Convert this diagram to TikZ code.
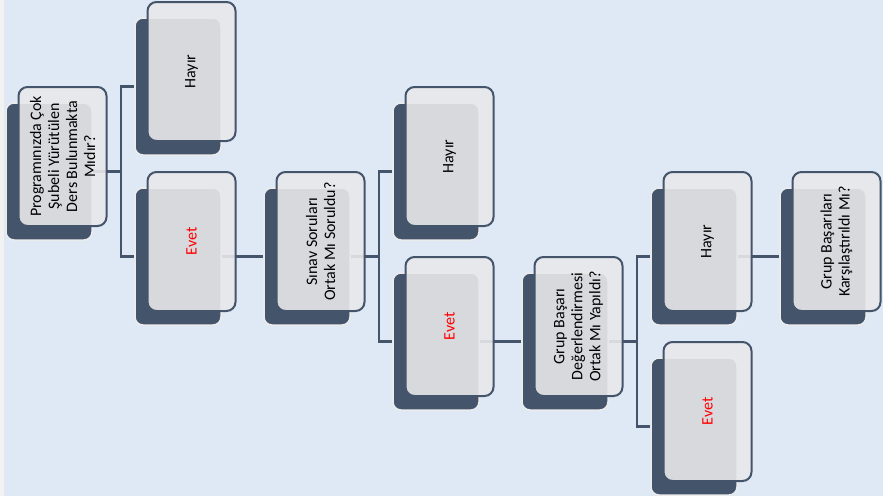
\documentclass[tikz,border=0pt]{standalone}
\usepackage{fontspec}
\setmainfont{Carlito}
\usetikzlibrary{positioning}
\definecolor{cardblue}{HTML}{44546A}
\definecolor{cardgrey}{HTML}{E8E8EA}
\definecolor{paleblue}{HTML}{DEE9F5}
\begin{document}
\begin{tikzpicture}[on grid, node distance=85pt and 129pt,
  backcard/.style={rectangle, rounded corners=8pt, fill=cardblue, draw=gray!15, line width=1.5pt, minimum width=86pt, minimum height=137pt, inner sep=0pt},
  frontcard/.style={rectangle, rounded corners=9pt, fill=cardgrey, fill opacity=0.9, text opacity=1, draw=cardblue, line width=2pt, rotate=90, minimum width=139pt, minimum height=88pt, align=center, font=\fontsize{16}{18}\selectfont},
  evetcard/.style={frontcard, text=red},
  link/.style={draw=cardblue, line width=2.5pt}]
    % Background
    \fill[paleblue] (0pt,0pt) rectangle (883pt,-496pt);
    \fill[blue!3!gray!10] (0pt,0pt) rectangle (4pt,-496pt);
    \useasboundingbox (0pt,0pt) rectangle (883pt,-496pt);
    % Back cards
    \node[backcard] (n1b) at (49pt,-171.5pt) {};
    \node[backcard] (h1b) [above right=of n1b] {};
    \node[backcard] (e1b) [below right=of n1b] {};
    \node[backcard] (sb) [right=of e1b] {};
    \node[backcard] (h2b) [above right=of sb] {};
    \node[backcard] (e2b) [below right=of sb] {};
    \node[backcard] (gb) [right=of e2b] {};
    \node[backcard] (h3b) [above right=of gb] {};
    \node[backcard] (e3b) [below right=of gb] {};
    \node[backcard] (kb) [right=of h3b] {};
    % Lines
    \draw[link] (n1b.east) -- ++(28pt,0) |- (h1b.west);
    \draw[link] (n1b.east) -- ++(28pt,0) |- (e1b.west);
    \draw[link] (e1b.east) -- (sb.west);
    \draw[link] (sb.east) -- ++(28pt,0) |- (h2b.west);
    \draw[link] (sb.east) -- ++(28pt,0) |- (e2b.west);
    \draw[link] (e2b.east) -- (gb.west);
    \draw[link] (gb.east) -- ++(28pt,0) |- (h3b.west);
    \draw[link] (gb.east) -- ++(28pt,0) |- (e3b.west);
    \draw[link] (h3b.east) -- (kb.west);
    % Front cards
    \node[frontcard] (n1) [above right=15pt and 13.5pt of n1b] {Programınızda Çok\\Şubeli Yürütülen\\Ders Bulunmakta\\Mıdır?};
    \node[frontcard] (h1) [above right=15pt and 13.5pt of h1b] {Hayır};
    \node[evetcard] (e1) [above right=15pt and 13.5pt of e1b] {Evet};
    \node[frontcard] (s) [above right=15pt and 13.5pt of sb] {Sınav Soruları\\Ortak Mı Soruldu?};
    \node[frontcard] (h2) [above right=15pt and 13.5pt of h2b] {Hayır};
    \node[evetcard] (e2) [above right=15pt and 13.5pt of e2b] {Evet};
    \node[frontcard] (g) [above right=15pt and 13.5pt of gb] {Grup Başarı\\Değerlendirmesi\\Ortak Mı Yapıldı?};
    \node[frontcard] (h3) [above right=15pt and 13.5pt of h3b] {Hayır};
    \node[evetcard] (e3) [above right=15pt and 13.5pt of e3b] {Evet};
    \node[frontcard] (k) [above right=15pt and 13.5pt of kb] {Grup Başarıları\\Karşılaştırıldı Mı?};
\end{tikzpicture}
\end{document}
